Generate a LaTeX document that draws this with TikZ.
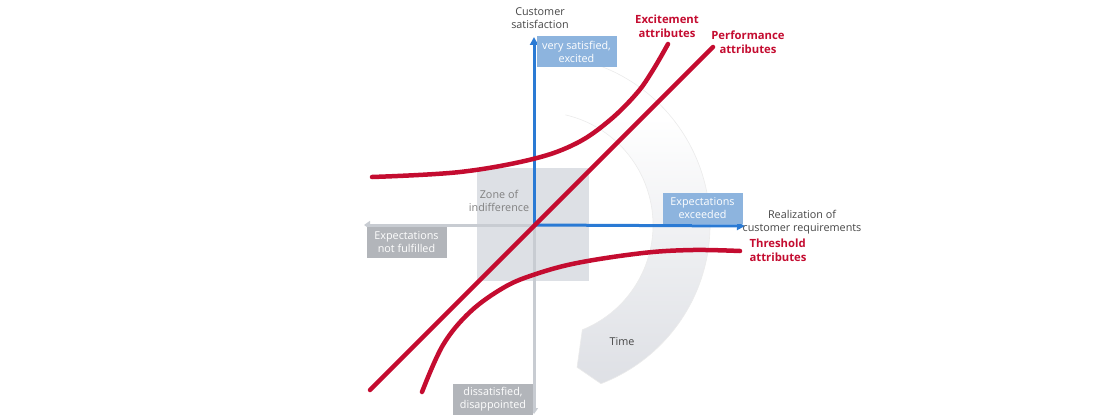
\documentclass[tikz,border=0pt]{standalone}
\usepackage{fontspec}
\setmainfont{Open Sans}
\usetikzlibrary{arrows.meta,shapes}

\definecolor{kred}{RGB}{196,12,48}
\definecolor{kblue}{RGB}{42,122,212}
\definecolor{kbox}{RGB}{141,180,222}
\definecolor{kgray}{RGB}{178,181,186}
\definecolor{kaxis}{RGB}{200,204,210}
\definecolor{kzone}{RGB}{221,224,229}
\definecolor{kband}{RGB}{222,224,229}
\definecolor{ktext}{RGB}{70,70,70}

\pgfdeclareverticalshading{bandshade}{100bp}{color(0bp)=(kband); color(25bp)=(kband); color(45bp)=(kband!55); color(66bp)=(white); color(100bp)=(white)}

\begin{document}
\begin{tikzpicture}[x=1pt,y=-1pt,
  font=\fontsize{10.8}{13}\selectfont,
  box/.style={fill=#1,text=white,align=center,inner sep=0pt,minimum width=80pt,minimum height=31pt},
  lbl/.style={text=ktext,align=center},
  attr/.style={text=kred,font=\fontsize{11.3}{14}\selectfont\bfseries,align=center},
  curve/.style={kred,line width=4.5pt,line cap=round},
  blueaxis/.style={kblue,line width=3pt,-{Triangle[length=8pt,width=8pt]}},
  grayaxis/.style={kaxis,line width=3pt,-{Triangle[length=6pt,width=8pt]}}]
\useasboundingbox (0,0) rectangle (1100,420);

\coordinate (o) at (534,225);
\coordinate (top) at (534,37);
\coordinate (bottom) at (534,414);
\coordinate (left) at (364,225);
\coordinate (right) at (745,226);

\node[fill=kzone,minimum width=112pt,minimum height=113pt,inner sep=0pt] (zonebox) at (533,224.5) {};

% time band
\begin{scope}[shift={(540,225)}]
\shade[shading=bandshade]
  (-77:170) arc[start angle=-77,end angle=69,radius=170] -- (75.4:147) -- (68:113)
  arc[start angle=68,end angle=-77,radius=113] -- cycle;
\draw[black!8,line width=0.6pt]
  (-77:170) arc[start angle=-77,end angle=69,radius=170] -- (75.4:147) -- (68:113)
  arc[start angle=68,end angle=-77,radius=113];
\end{scope}

\draw[grayaxis] (o) -- (left);
\draw[grayaxis] (o) -- (bottom);
\draw[blueaxis] (o) -- (top);
\draw[blueaxis] (o) -- (right);

\node[box=kbox] (vsat) at (576.5,52) {very satisfied,\\excited};
\node[box=kbox] (exceed) at (702.5,208.5) {Expectations\\exceeded};
\node[box=kgray] (notf) at (406.5,242.5) {Expectations\\not fulfilled};
\node[box=kgray] (dis) at (493,399) {dissatisfied,\\disappointed};

\draw[curve] plot[smooth,tension=0.6] coordinates {(372,177) (460,172) (533,159) (577,143) (610,120) (637,93) (653,70) (668,44)};
\draw[curve] (370,390) -- (713,47);
\draw[curve] plot[smooth,tension=0.6] coordinates {(422,392) (443,345) (470,312) (503,288) (533,275) (577,263) (643,253) (693,250) (740,251)};

\node[lbl] (sat) at (540,18) {Customer\\satisfaction};
\node[lbl] (real) at (802,222) {Realization of\\customer requirements};
\node[attr] (exc) at (667,26) {Excitement\\attributes};
\node[attr] (perf) at (748,42) {Performance\\attributes};
\node[attr,align=left,anchor=west] (thr) at (746,250) {Threshold\\attributes};
\node[text=gray,align=center] (zone) at (499,201) {Zone of\\indifference};
\node[lbl] (time) at (622,342) {Time};
\end{tikzpicture}
\end{document}
